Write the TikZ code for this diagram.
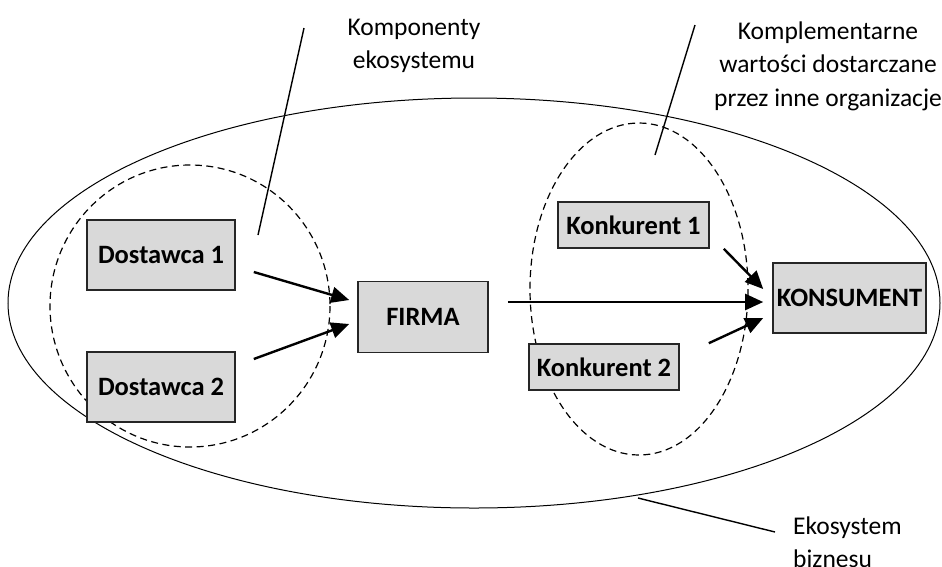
\documentclass[tikz,border=0pt]{standalone}
\usepackage{fontspec}
\setmainfont{Carlito}
\usetikzlibrary{arrows.meta,calc}
\begin{document}
\begin{tikzpicture}[x=1pt,y=-1pt,
  box/.style={draw=black!85,line width=1.6pt,fill=black!15,inner sep=0pt,
    font=\fontsize{26.5}{30}\selectfont\bfseries},
  flow/.style={line width=2.4pt,-{Triangle[length=18pt,width=16pt]}},
  leader/.style={line width=1.4pt},
  lbl/.style={font=\fontsize{25.5}{33.5}\selectfont,inner sep=0pt},
  dashring/.style={draw,line width=1.2pt,dash pattern=on 7pt off 4.5pt}]
\useasboundingbox (0,0) rectangle (942,566);
% ellipses
\draw[line width=1pt] (474,303) ellipse [x radius=466,y radius=205];
\draw[dashring] (190,306) ellipse [x radius=140,y radius=141];
\draw[dashring] (639,289) ellipse [x radius=109,y radius=166];
% boxes
\node[box,minimum width=148pt,minimum height=70pt] (d1) at (161,255) {Dostawca 1};
\node[box,minimum width=148pt,minimum height=70pt] (d2) at (161,387) {Dostawca 2};
\node[box,minimum width=130pt,minimum height=71pt] (firma) at (423,317) {FIRMA};
\node[box,minimum width=151pt,minimum height=46pt] (k1) at (633.5,225) {Konkurent 1};
\node[box,minimum width=150pt,minimum height=46pt] (k2) at (604,367) {Konkurent 2};
\node[box,minimum width=153pt,minimum height=70pt] (kons) at (849.5,298) {KONSUMENT};
% arrow endpoints
\coordinate (d1o) at ($(d1.east)+(18,17)$);
\coordinate (d2o) at ($(d2.east)+(18,-28)$);
\coordinate (fi1) at ($(firma.west)+(-8,-17)$);
\coordinate (fi2) at ($(firma.west)+(-8,7)$);
\coordinate (fo) at ($(firma.east)+(19,-15)$);
\coordinate (ko) at ($(kons.west)+(-9,4)$);
\coordinate (ko1) at ($(kons.west)+(-9,-9)$);
\coordinate (ko2) at ($(kons.west)+(-9,20)$);
\coordinate (k1o) at ($(k1.south east)+(14,0)$);
\coordinate (k2o) at ($(k2.north east)+(29,0)$);
\draw[flow] (d1o) -- (fi1);
\draw[flow] (d2o) -- (fi2);
\draw[flow] (fo) -- (ko);
\draw[flow] (k1o) -- (ko1);
\draw[flow] (k2o) -- (ko2);
% labels
\node[lbl,align=center] (komp) at (414,46) {Komponenty\\ekosystemu};
\node[lbl,align=center] (kompl) at (828,66) {Komplementarne\\wartości dostarczane\\przez inne organizacje};
\node[lbl,align=left,anchor=west] (eko) at (793,542) {Ekosystem\\biznesu};
\coordinate (l1a) at (304,28);
\coordinate (l1b) at (258,235);
\coordinate (l2a) at (695,25);
\coordinate (l2b) at (655,155);
\coordinate (l3a) at (638,498);
\coordinate (l3b) at (775,532);
\draw[leader] (l1a) -- (l1b);
\draw[leader] (l2a) -- (l2b);
\draw[leader] (l3a) -- (l3b);
\end{tikzpicture}
\end{document}
